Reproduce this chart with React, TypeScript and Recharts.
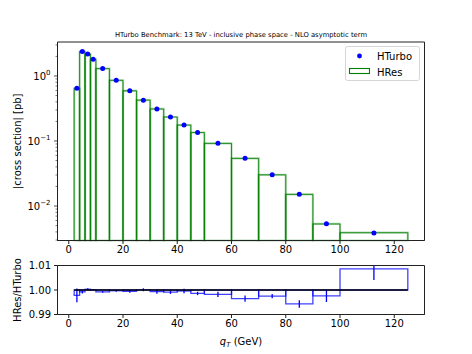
import {
  ComposedChart,
  Scatter,
  XAxis,
  YAxis,
  ReferenceArea,
  ReferenceLine,
  ErrorBar,
  Legend,
  Label,
} from "recharts";

// bin edges in q_T (GeV)
const binEdges = [2, 4, 6, 8, 10, 15, 20, 25, 30, 35, 40, 45, 50, 60, 70, 80, 90, 100, 125];

// HTurbo points, |cross section| in pb
const hturbo = [
  0.645, 2.38, 2.17, 1.8, 1.3, 0.857, 0.592, 0.425, 0.311, 0.234, 0.176, 0.135,
  0.092, 0.0542, 0.0303, 0.0152, 0.00532, 0.00386,
];

// HRes histogram, pb
const hres = [
  0.644, 2.378, 2.171, 1.8, 1.299, 0.857, 0.592, 0.425, 0.311, 0.234, 0.176, 0.135,
  0.0918, 0.054, 0.0302, 0.0151, 0.0053, 0.00389,
];

// HRes/HTurbo ratio and its error
const ratio = [
  0.9978, 0.9992, 1.0003, 1.0001, 0.9992, 0.9997, 0.9994, 1.0001, 0.9993, 0.9991,
  0.9996, 0.9986, 0.9982, 0.9965, 0.9975, 0.9943, 0.9976, 1.0086,
];
const ratioErr = [
  0.0028, 0.0006, 0.0004, 0.0003, 0.0003, 0.0004, 0.0005, 0.0006, 0.0008, 0.0007,
  0.0009, 0.0007, 0.0011, 0.0013, 0.0009, 0.0015, 0.0025, 0.0045,
];

const xTicks = [0, 20, 40, 60, 80, 100, 120];
const ratioTicks = [0.99, 1.0, 1.01];

const X_DOMAIN: [number, number] = [-4.15, 131.15];
const Y_DOMAIN: [number, number] = [0.00295, 3.33];
const R_DOMAIN: [number, number] = [0.99, 1.01];

const TITLE = "HTurbo Benchmark: 13 TeV - inclusive phase space - NLO asymptotic term";

const bins = hres.map((v, i) => ({ lo: binEdges[i], hi: binEdges[i + 1], v }));
const points = hturbo.map((y, i) => ({ x: (binEdges[i] + binEdges[i + 1]) / 2, y }));
// error bars are cut at the panel's upper edge, like the clipped original
const ratioBins = ratio.map((r, i) => ({
  lo: binEdges[i],
  hi: binEdges[i + 1],
  x: (binEdges[i] + binEdges[i + 1]) / 2,
  y: r,
  errs: [ratioErr[i], Math.min(ratioErr[i], R_DOMAIN[1] - r)],
}));

// major + minor log ticks
const yTicks: number[] = [];
[0.001, 0.01, 0.1, 1].forEach((d) => {
  for (let m = 1; m <= 9; m++) {
    const t = +(d * m).toPrecision(3);
    if (t >= Y_DOMAIN[0] && t <= Y_DOMAIN[1]) yTicks.push(t);
  }
});

const font = "DejaVu Sans, sans-serif";
const frameColor = "#222";

function LogTick({ x, y, payload }: any) {
  const v = payload.value;
  const lg = Math.log10(v);
  const exp = Math.round(lg);
  const major = Math.abs(lg - exp) < 1e-6;
  return (
    <g>
      <line
        x1={x}
        x2={x - (major ? 3.5 : 2)}
        y1={y}
        y2={y}
        stroke={frameColor}
        strokeWidth={major ? 0.8 : 0.6}
      />
      {major && (
        <text x={x - 7} y={y + 4} textAnchor="end" fontSize={10} fill="#000" fontFamily={font}>
          10
          <tspan dy={-5} fontSize={7}>
            {exp < 0 ? `\u2212${-exp}` : `${exp}`}
          </tspan>
        </text>
      )}
    </g>
  );
}

function LegendBox() {
  return (
    <svg width={75} height={35}>
      <rect x={0.5} y={0.5} width={74} height={34} rx={2} fill="#fff" fillOpacity={0.8} stroke="#d6d6d6" />
      <circle cx={14.5} cy={10} r={2.4} fill="#0000ff" />
      <text x={32} y={13.5} fontSize={10} fontFamily={font} fill="#000">
        HTurbo
      </text>
      <rect x={4.5} y={22.5} width={20} height={5} fill="none" stroke="#008000" strokeWidth={1.1} />
      <text x={32} y={30} fontSize={10} fontFamily={font} fill="#000">
        HRes
      </text>
    </svg>
  );
}

function RotLabel({ viewBox, text }: any) {
  const cy = viewBox.y + viewBox.height / 2;
  return (
    <text
      x={17}
      y={cy}
      transform={`rotate(-90, 17, ${cy})`}
      textAnchor="middle"
      dominantBaseline="central"
      fontSize={10}
      fontFamily={font}
      fill="#000"
    >
      {text}
    </text>
  );
}

export default function App() {
  return (
    <div
      style={{
        position: "absolute",
        left: 0,
        top: 0,
        width: 472,
        height: 354,
        background: "#fff",
        fontFamily: font,
      }}
    >
      {/* main panel */}
      <div style={{ position: "absolute", left: 0, top: 0 }}>
        <ComposedChart width={472} height={263.5} margin={{ top: 42, right: 47.5, bottom: 0, left: 0 }}>
          <XAxis
            dataKey="x"
            type="number"
            domain={X_DOMAIN}
            allowDataOverflow
            ticks={xTicks}
            interval={0}
            height={23}
            stroke={frameColor}
            tickSize={3.5}
            tickMargin={2}
            tick={{ fill: "#000", fontSize: 10, fontFamily: font }}
          />
          <YAxis
            dataKey="y"
            type="number"
            scale="log"
            domain={Y_DOMAIN}
            allowDataOverflow
            ticks={yTicks}
            interval={0}
            width={57.5}
            stroke={frameColor}
            tickSize={0}
            tickMargin={0}
            tickLine={false}
            tick={(p: any) => <LogTick {...p} />}
          >
            <Label content={(p: any) => <RotLabel {...p} text="|cross section| [pb]" />} />
          </YAxis>
          {bins.map((b) => (
            <ReferenceArea
              key={`a${b.lo}`}
              x1={b.lo}
              x2={b.hi}
              y1={Y_DOMAIN[0]}
              y2={b.v}
              fill="none"
              stroke="#008000"
              strokeOpacity={0.3}
              strokeWidth={2.2}
              ifOverflow="visible"
            />
          ))}
          {bins.map((b) => (
            <ReferenceArea
              key={`b${b.lo}`}
              x1={b.lo}
              x2={b.hi}
              y1={Y_DOMAIN[0]}
              y2={b.v}
              fill="none"
              stroke="#008000"
              strokeOpacity={0.9}
              strokeWidth={0.9}
              ifOverflow="visible"
            />
          ))}
          <Scatter
            data={points}
            dataKey="y"
            isAnimationActive={false}
            shape={(p: any) => <circle cx={p.cx} cy={p.cy} r={2.5} fill="#0000ff" />}
          />
          {/* frame + title */}
          <ReferenceArea
            x1={X_DOMAIN[0]}
            x2={X_DOMAIN[1]}
            y1={Y_DOMAIN[0]}
            y2={Y_DOMAIN[1]}
            fill="none"
            stroke={frameColor}
            strokeWidth={1}
            ifOverflow="visible"
            label={{
              value: TITLE,
              position: "top",
              offset: 5,
              fontSize: 6.8,
              fill: "#000",
              fontFamily: font,
            }}
          />
          <Legend
            layout="vertical"
            align="center"
            verticalAlign="middle"
            content={() => <LegendBox />}
            wrapperStyle={{ position: "absolute", left: 345, top: 46, width: 75, height: 35 }}
          />
        </ComposedChart>
      </div>

      {/* ratio panel */}
      <div style={{ position: "absolute", left: 0, top: 240 }}>
        <ComposedChart width={472} height={114} margin={{ top: 25.5, right: 47.5, bottom: 0, left: 0 }}>
          <XAxis
            dataKey="x"
            type="number"
            domain={X_DOMAIN}
            allowDataOverflow
            ticks={xTicks}
            interval={0}
            height={39.5}
            stroke={frameColor}
            tickSize={3.5}
            tickMargin={2}
            tick={{ fill: "#000", fontSize: 10, fontFamily: font }}
          >
            <Label
              content={() => (
                <text x={241} y={104.5} textAnchor="middle" fontSize={10} fontFamily={font} fill="#000">
                  <tspan fontStyle="italic">q</tspan>
                  <tspan fontStyle="italic" fontSize={7} dy={2}>
                    T
                  </tspan>
                  <tspan dy={-2}> (GeV)</tspan>
                </text>
              )}
            />
          </XAxis>
          <YAxis
            dataKey="y"
            type="number"
            domain={R_DOMAIN}
            allowDataOverflow
            ticks={ratioTicks}
            interval={0}
            width={57.5}
            stroke={frameColor}
            tickSize={3.5}
            tickMargin={3}
            tickFormatter={(v: number) => v.toFixed(2)}
            tick={{ fill: "#000", fontSize: 10, fontFamily: font }}
          >
            <Label content={(p: any) => <RotLabel {...p} text="HRes/HTurbo" />} />
          </YAxis>
          {ratioBins.map((b) => (
            <ReferenceArea
              key={`r${b.lo}`}
              x1={b.lo}
              x2={b.hi}
              y1={1}
              y2={b.y}
              fill="none"
              stroke="#0000ff"
              strokeOpacity={0.75}
              strokeWidth={1.3}
              ifOverflow="visible"
            />
          ))}
          <Scatter data={ratioBins} dataKey="y" isAnimationActive={false} shape={() => <g />}>
            <ErrorBar dataKey="errs" direction="y" width={0} stroke="#0000ff" strokeWidth={1.3} />
          </Scatter>
          <ReferenceLine
            segment={[
              { x: binEdges[0], y: 1 },
              { x: binEdges[binEdges.length - 1], y: 1 },
            ]}
            stroke="#000"
            strokeWidth={1.5}
          />
          <ReferenceArea
            x1={X_DOMAIN[0]}
            x2={X_DOMAIN[1]}
            y1={R_DOMAIN[0]}
            y2={R_DOMAIN[1]}
            fill="none"
            stroke={frameColor}
            strokeWidth={1}
            ifOverflow="visible"
          />
        </ComposedChart>
      </div>
    </div>
  );
}
